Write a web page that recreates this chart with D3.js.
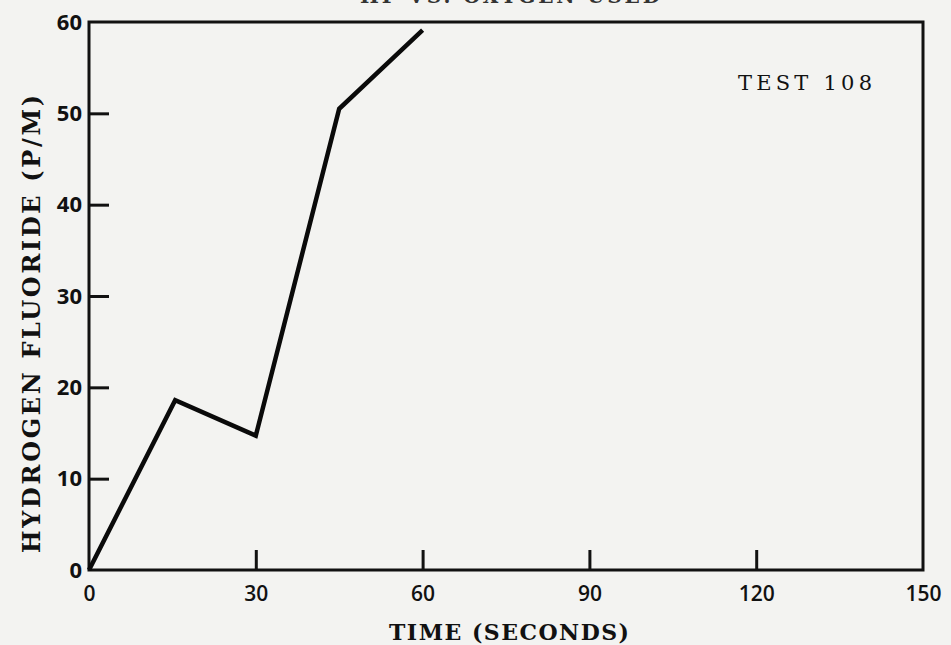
<!DOCTYPE html>
<html><head><meta charset="utf-8">
<script src="https://cdn.jsdelivr.net/npm/d3@7"></script>
<style>
html,body{margin:0;padding:0;background:#f3f3f1;}
svg{display:block;}
</style></head>
<body>
<script>
const timeSeconds = [0, 15.5, 30, 45, 60];
const hfPPM = [0, 18.6, 14.7, 50.5, 59.1];
const xTicks = [0, 30, 60, 90, 120, 150];
const yTicks = [0, 10, 20, 30, 40, 50, 60];
const xLabel = "TIME (SECONDS)";
const yLabel = "HYDROGEN FLUORIDE (P/M)";
const annotation = "TEST 108";
const topTitle = "HF VS. OXYGEN USED";

const W = 951, H = 645;
const svg = d3.select("body").append("svg").attr("width", W).attr("height", H);
svg.append("rect").attr("width", W).attr("height", H).attr("fill", "#f3f3f1");

const x = d3.scaleLinear().domain([0, 150]).range([89, 923]);
const y = d3.scaleLinear().domain([0, 60]).range([570, 22]);

// partially cut title at top (only its lower edge shows, as in the scan)
svg.append("text").attr("x", 510).attr("y", 3).attr("text-anchor", "middle")
  .attr("font-family", "DejaVu Serif").attr("font-size", 20).attr("font-weight", "bold")
  .attr("textLength", 300).attr("lengthAdjust", "spacing")
  .attr("fill", "#333").text(topTitle);

// frame
svg.append("rect").attr("x", x(0)).attr("y", y(60))
  .attr("width", x(150) - x(0)).attr("height", y(0) - y(60))
  .attr("fill", "none").attr("stroke", "#111").attr("stroke-width", 3);

// x axis (inward ticks)
const xAxis = d3.axisBottom(x).tickValues(xTicks).tickSize(-20).tickPadding(29).tickFormat(d3.format("d"));
const gx = svg.append("g").attr("transform", `translate(0,${y(0)})`).call(xAxis);
gx.select(".domain").remove();
gx.selectAll(".tick line").attr("stroke", "#111").attr("stroke-width", 3)
  .attr("display", d => (d === 0 || d === 150) ? "none" : null);
gx.selectAll(".tick text").attr("font-family", "Open Sans").attr("font-size", 21)
  .attr("font-weight", "600").attr("fill", "#111").attr("dy", "0.1em");

// y axis (inward ticks)
const yAxis = d3.axisLeft(y).tickValues(yTicks).tickSize(-20).tickPadding(7).tickFormat(d3.format("d"));
const gy = svg.append("g").attr("transform", `translate(${x(0)},0)`).call(yAxis);
gy.select(".domain").remove();
gy.selectAll(".tick line").attr("stroke", "#111").attr("stroke-width", 3)
  .attr("display", d => (d === 0 || d === 60) ? "none" : null);
gy.selectAll(".tick text").attr("font-family", "Open Sans").attr("font-size", 22)
  .attr("font-weight", "700").attr("fill", "#111");

// axis labels
svg.append("text").attr("x", 509).attr("y", 640).attr("text-anchor", "middle")
  .attr("font-family", "DejaVu Serif").attr("font-size", 22).attr("font-weight", "bold")
  .attr("textLength", 240).attr("lengthAdjust", "spacing")
  .attr("fill", "#111").text(xLabel);

svg.append("text").attr("transform", "translate(40,324) rotate(-90)").attr("text-anchor", "middle")
  .attr("font-family", "DejaVu Serif").attr("font-size", 24).attr("font-weight", "bold")
  .attr("textLength", 458).attr("lengthAdjust", "spacing")
  .attr("fill", "#111").text(yLabel);

// annotation
svg.append("text").attr("x", 805).attr("y", 90).attr("text-anchor", "middle")
  .attr("font-family", "DejaVu Serif").attr("font-size", 21)
  .attr("textLength", 134).attr("lengthAdjust", "spacing")
  .attr("fill", "#111").text(annotation);

// data line
const line = d3.line().x((d, i) => x(timeSeconds[i])).y(d => y(d));
svg.append("path").datum(hfPPM).attr("d", line)
  .attr("fill", "none").attr("stroke", "#0a0a0a").attr("stroke-width", 4.5)
  .attr("stroke-linejoin", "miter").attr("stroke-linecap", "butt");
</script>
</body></html>
